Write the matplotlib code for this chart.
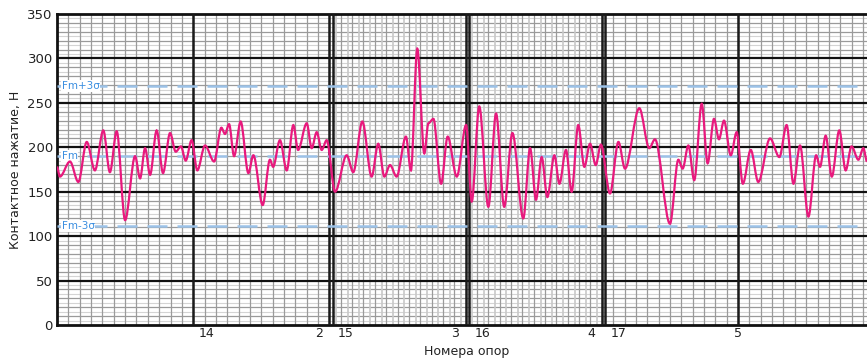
import matplotlib
matplotlib.use("Agg")
from matplotlib import pyplot as plt
from matplotlib.path import Path
from matplotlib.patches import PathPatch
from matplotlib import transforms

# distance along the track, m (extrema of the contact force curve)
distance = [0, 1.3, 5.7, 9.4, 13.1, 16.7, 20.4, 23.3, 26.3, 30.0, 34.4, 36.6, 38.8, 41.0, 43.9,
            46.7, 49.8, 52.3, 54.6, 56.7, 59.3, 61.8, 65.2, 69.2, 72.4, 74.0, 75.8, 78.0, 80.9,
            84.3, 86.5, 90.6, 93.8, 95.2, 98.2, 101.2, 104.1, 106.2, 110.0, 112.2, 114.4, 116.6,
            118.8, 122.5, 127.6, 130.5, 134.5, 138.6, 141.5, 144.2, 146.7, 149.6, 153.7, 155.9,
            158.7, 161.8, 163.6, 165.8, 169.2, 172.1, 176.1, 180.2, 182.7, 186.0, 190.0, 193.4,
            197.0, 200.6, 205.4, 208.4, 211.0, 213.5, 216.0, 219.1, 221.3, 224.2, 226.7, 229.6,
            232.3, 234.8, 237.3, 239.6, 243.6, 247.3, 250.2, 256.5, 260.9, 263.4, 270.0, 273.7,
            275.6, 278.1, 280.7, 284.0, 286.6, 289.4, 291.6, 293.8, 296.8, 299.4, 302.1, 305.6,
            308.9, 314.1, 318.2, 321.4, 324.4, 327.3, 331.0, 334.4, 336.1, 338.6, 341.3, 344.6,
            347.4, 350.0, 353.0, 355.2, 356.8]
# contact force, N
force = [178, 167, 184, 161, 206, 174, 219, 172, 218, 118, 190, 165, 199, 169, 219,
         171, 216, 195, 201, 185, 208, 174, 202, 184, 222, 215, 226, 190, 229,
         171, 191, 135, 186, 178, 208, 174, 225, 197, 227, 199, 217, 197,
         208, 150, 191, 172, 229, 167, 204, 167, 180, 167, 212, 174,
         311, 193, 227, 232, 159, 212, 167, 225, 139, 246, 133, 238,
         133, 216, 120, 199, 141, 189, 144, 191, 159, 197, 150, 225,
         178, 204, 180, 203, 148, 206, 176, 244, 199, 209, 114, 186,
         176, 202, 163, 249, 182, 232, 209, 230, 191, 217, 159, 197,
         161, 210, 189, 225, 159, 202, 122, 191, 178, 213, 167, 219,
         174, 201, 186, 199, 184]

# supports: (label, position m, side of the line)
support_labels = ["14", "2", "15", "3", "16", "4", "17", "5"]
support_pos = [60, 120, 121.5, 180, 181.5, 240, 241.5, 300]
support_side = ["left", "right", "left", "right", "left", "right", "left", "center"]

f_mean = 190
sigma = 26.3
x_max = 356.8

fig = plt.figure(figsize=(8.67, 3.59), dpi=100)
ax = fig.add_axes([57 / 867, 34 / 359, 1 - 57 / 867, 311 / 359])
ax.set_xlim(0, x_max)
ax.set_ylim(0, 350)

# grid paper
for y in range(5, 350, 5):
    if y % 50 == 0:
        ax.axhline(y, color="#111111", lw=1.6, zorder=2)
    elif y % 10 == 0:
        ax.axhline(y, color="#9a9a9a", lw=0.9, zorder=1)
    else:
        ax.axhline(y, color="#d4d4d4", lw=0.8, zorder=1)

x = 5
while x < x_max:
    ax.axvline(x, color="#9a9a9a", lw=0.9, zorder=1)
    x += 5
x = 121.5
while x < 240:
    ax.axvline(x + 1.5, color="#c8c8c8", lw=1.2, zorder=1)
    x += 5

for p in support_pos:
    ax.axvline(p, color="#1a1a1a", lw=1.8, zorder=3)

# Fm, Fm+3σ, Fm-3σ levels
levels = [f_mean + 3 * sigma, f_mean, f_mean - 3 * sigma]
level_names = ["Fm+3σ", "Fm", "Fm-3σ"]
for lv, name in zip(levels, level_names):
    ax.axhline(lv, color="#9cc2e8", lw=1.8, ls=(0, (8, 4)), zorder=4)
    ax.text(2, lv, name, color="#3a8ee0", fontsize=7.5, va="center", ha="left",
            bbox=dict(facecolor="white", edgecolor="none", pad=0.6), zorder=5)

# smooth curve through the extrema (horizontal tangents)
verts = [(distance[0], force[0])]
codes = [Path.MOVETO]
for i in range(1, len(distance)):
    dx = distance[i] - distance[i - 1]
    verts.append((distance[i - 1] + dx / 3, force[i - 1]))
    verts.append((distance[i] - dx / 3, force[i]))
    verts.append((distance[i], force[i]))
    codes += [Path.CURVE4, Path.CURVE4, Path.CURVE4]
curve = PathPatch(Path(verts, codes), fill=False, edgecolor="#e8197d", lw=1.6, zorder=6)
ax.add_patch(curve)

for s in ["left", "bottom", "top"]:
    ax.spines[s].set_linewidth(2)
    ax.spines[s].set_color("#111111")
ax.spines["right"].set_visible(False)

ax.set_yticks(range(0, 351, 50))
ax.set_xticks([])
ax.tick_params(axis="y", length=0, pad=3, labelsize=9.5, colors="#222222")
ax.set_ylabel("Контактное нажатие, Н", fontsize=9, color="#222222", labelpad=4)

trans = transforms.blended_transform_factory(ax.transData, ax.transAxes)
for lab, p, side in zip(support_labels, support_pos, support_side):
    if side == "left":
        xp, ha = p + 2.3, "left"
    elif side == "right":
        xp, ha = p - 2.8, "right"
    else:
        xp, ha = p, "center"
    ax.text(xp, -0.027, lab, transform=trans, ha=ha, va="center", fontsize=9, color="#222222")

ax.text(180.5, -0.085, "Номера опор", transform=trans, ha="center", va="center",
        fontsize=9, color="#222222")

fig.savefig("out.png", dpi=100)
